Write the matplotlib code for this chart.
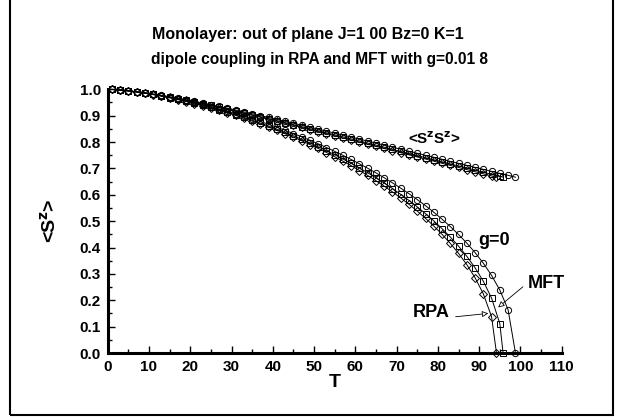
import matplotlib
matplotlib.use("Agg")
import matplotlib.pyplot as plt
from matplotlib.patches import Rectangle
from matplotlib.ticker import MultipleLocator

plt.rcParams['font.family'] = ['Liberation Sans', 'DejaVu Sans']
plt.rcParams['font.weight'] = 'bold'

# temperatures (odd steps) for the three curves, ending at their Tc
t_g0 = [1, 3, 5, 7, 9, 11, 13, 15, 17, 19, 21, 23, 25, 27, 29, 31, 33, 35, 37, 39,
        41, 43, 45, 47, 49, 51, 53, 55, 57, 59, 61, 63, 65, 67, 69, 71, 73, 75, 77, 79,
        81, 83, 85, 87, 89, 91, 93, 95, 97, 98.8]
t_mft = t_g0[:48] + [95.8]
t_rpa = t_g0[:47] + [94.2]

# <S^z>
sz_g0 = [0.9995, 0.9974, 0.9943, 0.9905, 0.9862, 0.9813, 0.9758, 0.9700, 0.9637, 0.9569,
         0.9497, 0.9422, 0.9342, 0.9258, 0.9170, 0.9079, 0.8983, 0.8883, 0.8780, 0.8672,
         0.8560, 0.8443, 0.8322, 0.8197, 0.8067, 0.7932, 0.7792, 0.7646, 0.7495, 0.7338,
         0.7175, 0.7006, 0.6829, 0.6645, 0.6453, 0.6251, 0.6041, 0.5819, 0.5586, 0.5339,
         0.5076, 0.4796, 0.4495, 0.4168, 0.3808, 0.3407, 0.2945, 0.2390, 0.1649, 0.0]
sz_mft = [0.9995, 0.9972, 0.9940, 0.9901, 0.9855, 0.9804, 0.9747, 0.9685, 0.9619, 0.9548,
          0.9473, 0.9393, 0.9310, 0.9222, 0.9129, 0.9033, 0.8932, 0.8827, 0.8718, 0.8604,
          0.8485, 0.8362, 0.8234, 0.8102, 0.7964, 0.7820, 0.7671, 0.7517, 0.7356, 0.7188,
          0.7014, 0.6832, 0.6642, 0.6443, 0.6235, 0.6016, 0.5786, 0.5543, 0.5286, 0.5011,
          0.4717, 0.4400, 0.4053, 0.3668, 0.3233, 0.2724, 0.2086, 0.1118, 0.0]
sz_rpa = [0.9995, 0.9972, 0.9939, 0.9898, 0.9851, 0.9798, 0.9740, 0.9677, 0.9609, 0.9536,
          0.9459, 0.9377, 0.9291, 0.9201, 0.9106, 0.9007, 0.8903, 0.8795, 0.8682, 0.8565,
          0.8443, 0.8316, 0.8184, 0.8047, 0.7905, 0.7757, 0.7603, 0.7442, 0.7275, 0.7102,
          0.6920, 0.6731, 0.6533, 0.6326, 0.6108, 0.5879, 0.5638, 0.5381, 0.5109, 0.4817,
          0.4502, 0.4159, 0.3780, 0.3353, 0.2857, 0.2248, 0.1380, 0.0]

# <S^z S^z>
szsz_g0 = [0.9995, 0.9974, 0.9944, 0.9907, 0.9866, 0.9820, 0.9769, 0.9717, 0.9661, 0.9603,
           0.9542, 0.9481, 0.9416, 0.9349, 0.9282, 0.9213, 0.9144, 0.9073, 0.9002, 0.8932,
           0.8860, 0.8786, 0.8713, 0.8638, 0.8560, 0.8489, 0.8412, 0.8338, 0.8261, 0.8186,
           0.8110, 0.8035, 0.7958, 0.7881, 0.7805, 0.7729, 0.7651, 0.7574, 0.7496, 0.7423,
           0.7346, 0.7266, 0.7193, 0.7116, 0.7040, 0.6965, 0.6886, 0.6811, 0.6739, 0.6667]
szsz_mft = [0.9995, 0.9972, 0.9941, 0.9903, 0.9860, 0.9812, 0.9760, 0.9704, 0.9646, 0.9585,
            0.9521, 0.9456, 0.9390, 0.9322, 0.9252, 0.9182, 0.9108, 0.9036, 0.8962, 0.8888,
            0.8812, 0.8737, 0.8660, 0.8584, 0.8506, 0.8429, 0.8351, 0.8273, 0.8196, 0.8116,
            0.8039, 0.7959, 0.7881, 0.7801, 0.7723, 0.7643, 0.7565, 0.7486, 0.7407, 0.7328,
            0.7250, 0.7171, 0.7092, 0.7013, 0.6934, 0.6856, 0.6778, 0.6699, 0.6667]
szsz_rpa = [0.9995, 0.9972, 0.9940, 0.9900, 0.9856, 0.9806, 0.9753, 0.9697, 0.9637, 0.9575,
            0.9510, 0.9443, 0.9375, 0.9306, 0.9235, 0.9163, 0.9088, 0.9015, 0.8938, 0.8863,
            0.8786, 0.8709, 0.8631, 0.8553, 0.8474, 0.8395, 0.8316, 0.8237, 0.8157, 0.8077,
            0.7998, 0.7917, 0.7837, 0.7757, 0.7676, 0.7597, 0.7516, 0.7435, 0.7356, 0.7275,
            0.7194, 0.7115, 0.7036, 0.6955, 0.6875, 0.6795, 0.6715, 0.6667]

fig = plt.figure(figsize=(6.23, 4.19), dpi=100)
ax = fig.add_axes([0.1729, 0.1575, 0.7287, 0.6294])

style = dict(color='black', lw=0.7, mfc='none', mec='black', mew=0.7, ms=4.5, clip_on=False)
ax.plot(t_g0, sz_g0, marker='o', **style)
ax.plot(t_mft, sz_mft, marker='s', **style)
ax.plot(t_rpa, sz_rpa, marker='D', **dict(style, ms=4))
ax.plot(t_g0, szsz_g0, marker='o', **style)
ax.plot(t_mft, szsz_mft, marker='s', **style)
ax.plot(t_rpa, szsz_rpa, marker='D', **dict(style, ms=4))

ax.set_xlim(0, 110)
ax.set_ylim(0, 1.0)
ax.spines['top'].set_visible(False)
ax.spines['right'].set_visible(False)
ax.spines['left'].set_linewidth(2.2)
ax.spines['bottom'].set_linewidth(2.2)
ax.xaxis.set_major_locator(MultipleLocator(10))
ax.xaxis.set_minor_locator(MultipleLocator(5))
ax.yaxis.set_major_locator(MultipleLocator(0.1))
ax.yaxis.set_minor_locator(MultipleLocator(0.05))
ax.yaxis.set_major_formatter(plt.FormatStrFormatter('%.1f'))
ax.tick_params(which='major', direction='in', length=5, width=1, labelsize=11, pad=5)
ax.tick_params(which='minor', direction='in', length=3, width=1)

ax.set_xlabel('T', fontsize=14, fontweight='bold', labelpad=0)
ax.set_ylabel(r'<S$^{\mathbf{z}}$>', fontsize=14, fontweight='bold', labelpad=14)

fig.text(0.244, 0.918, 'Monolayer: out of plane J=1 00 Bz=0 K=1',
         fontsize=11.5, fontweight='bold', va='center')
fig.text(0.243, 0.858, 'dipole coupling in RPA and MFT with g=0.01 8',
         fontsize=11.2, fontweight='bold', va='center')

ax.text(79.0, 0.811, r'<S$^{\mathbf{z}}$S$^{\mathbf{z}}$>', fontsize=11,
        fontweight='bold', ha='center', va='center')
ax.text(93.5, 0.428, 'g=0', fontsize=13, fontweight='bold', ha='center', va='center')

ax.text(106.4, 0.265, 'MFT', fontsize=13, fontweight='bold', ha='center', va='center')
ax.annotate('', xy=(94.6, 0.173), xytext=(100.6, 0.251),
            arrowprops=dict(arrowstyle='-|>', color='black', lw=0.6, fc='white',
                            mutation_scale=9, shrinkA=0, shrinkB=0))
ax.text(78.3, 0.152, 'RPA', fontsize=13, fontweight='bold', ha='center', va='center')
ax.annotate('', xy=(92.2, 0.150), xytext=(84.3, 0.1375),
            arrowprops=dict(arrowstyle='-|>', color='black', lw=0.6, fc='white',
                            mutation_scale=9, shrinkA=0, shrinkB=0))

fig.patches.append(Rectangle((0.016, 0.0095), 0.9675, 1.1, transform=fig.transFigure,
                             fill=False, ec='black', lw=1.5, clip_on=False))

fig.savefig('out.png', dpi=100)
